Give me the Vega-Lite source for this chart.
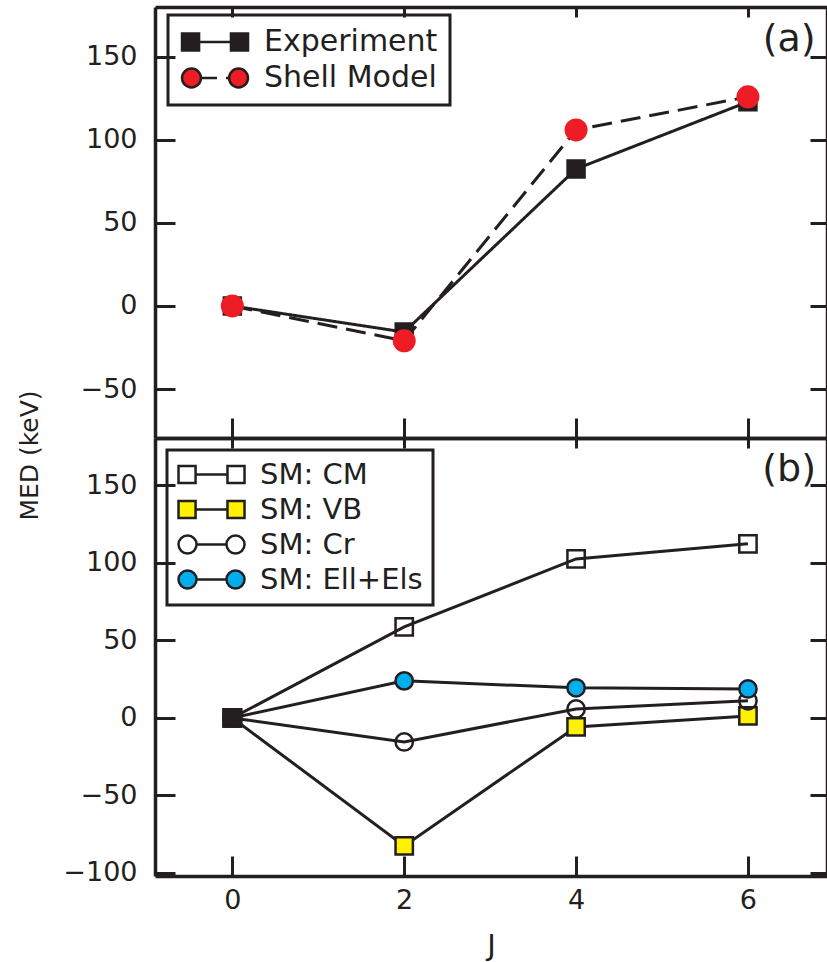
{
  "$schema": "https://vega.github.io/schema/vega-lite/v6.json",
  "padding": {"left": 17, "top": 5, "right": 0, "bottom": 20},
  "autosize": {"type": "pad"},
  "bounds": "flush",
  "spacing": 0,
  "config": {
    "view": {"stroke": null},
    "font": "DejaVu Sans",
    "axis": {
      "grid": false,
      "domainColor": "#231F20",
      "domainWidth": 3.5,
      "tickColor": "#231F20",
      "tickWidth": 3,
      "labelFont": "DejaVu Sans",
      "labelFontSize": 27,
      "labelColor": "#231F20",
      "titleFont": "DejaVu Sans",
      "titleColor": "#231F20",
      "titleFontWeight": "normal"
    },
    "legend": {
      "labelFont": "DejaVu Sans",
      "labelFontSize": 30,
      "labelColor": "#231F20",
      "labelLimit": 600,
      "strokeColor": "#231F20",
      "strokeWidth": 3,
      "symbolStrokeWidth": 2.5,
      "symbolStrokeColor": "#231F20",
      "symbolOpacity": 1,
      "symbolSize": 484,
      "labelOffset": 54,
      "padding": 12,
      "titleFontSize": 0
    }
  },
  "resolve": {
    "scale": {"x": "independent", "y": "independent", "shape": "independent", "fill": "independent", "stroke": "independent", "strokeDash": "independent", "size": "independent"},
    "legend": {"shape": "independent", "fill": "independent", "stroke": "independent"}
  },
  "vconcat": [
    {
      "width": 672,
      "height": 431,
      "data": {
        "values": [
          {"J": 0, "val": 0, "series": "Experiment"},
          {"J": 2, "val": -15.7, "series": "Experiment"},
          {"J": 4, "val": 82.5, "series": "Experiment"},
          {"J": 6, "val": 122.9, "series": "Experiment"},
          {"J": 0, "val": 0, "series": "Shell Model"},
          {"J": 2, "val": -21, "series": "Shell Model"},
          {"J": 4, "val": 106, "series": "Shell Model"},
          {"J": 6, "val": 125.9, "series": "Shell Model"}
        ]
      },
      "resolve": {
        "scale": {"shape": "independent", "fill": "independent", "stroke": "independent", "size": "independent"},
        "axis": {"x": "independent", "y": "independent"}
      },
      "layer": [
        {
          "mark": {"type": "line", "color": "#231F20", "strokeWidth": 3},
          "encoding": {
            "x": {"field": "J", "type": "quantitative", "scale": {"domain": [-0.9, 6.92], "nice": false, "zero": false},
                  "axis": {"orient": "bottom", "values": [0, 2, 4, 6], "labels": false, "tickSize": -20, "title": null}},
            "y": {"field": "val", "type": "quantitative", "scale": {"domain": [-79.5, 180], "nice": false, "zero": false},
                  "axis": {"orient": "left", "values": [-50, 0, 50, 100, 150], "tickSize": -20, "labelPadding": 38, "title": null}},
            "detail": {"field": "series"},
            "strokeDash": {"field": "series", "type": "nominal", "scale": {"domain": ["Experiment", "Shell Model"], "range": [[1, 0], [20, 9]]}, "legend": null}
          }
        },
        {
          "mark": {"type": "point", "filled": true, "strokeWidth": 2.5, "opacity": 1},
          "encoding": {
            "x": {"field": "J", "type": "quantitative",
                  "axis": {"orient": "top", "values": [0, 2, 4, 6], "labels": false, "tickSize": -10, "title": null}},
            "y": {"field": "val", "type": "quantitative",
                  "axis": {"orient": "right", "values": [-50, 0, 50, 100, 150], "labels": false, "tickSize": -17, "title": null}},
            "shape": {"field": "series", "type": "nominal", "scale": {"domain": ["Experiment", "Shell Model"], "range": ["square", "circle"]}, "legend": null},
            "fill": {"field": "series", "type": "nominal", "scale": {"domain": ["Experiment", "Shell Model"], "range": ["#231F20", "#EE1C25"]}, "legend": null},
            "stroke": {"field": "series", "type": "nominal", "scale": {"domain": ["Experiment", "Shell Model"], "range": ["#231F20", "#EE1C25"]}, "legend": null},
            "size": {"field": "series", "type": "ordinal", "scale": {"domain": ["Experiment", "Shell Model"], "range": [289, 420]}, "legend": null}
          }
        },
        {
          "transform": [{"filter": "false"}],
          "mark": {"type": "point", "filled": true, "stroke": "#231F20", "strokeWidth": 2.5},
          "encoding": {
            "shape": {"field": "series", "type": "nominal",
                      "scale": {"domain": ["Experiment", "Shell Model"],
                                "range": ["M-1.18,-0.77H0.37V0.77H-1.18Z M3.27,-0.77H4.82V0.77H3.27Z M0.37,0H3.27",
                                          "M-1.18,0A0.86,0.86 0 1,1 0.54,0A0.86,0.86 0 1,1 -1.18,0Z M3.1,0A0.86,0.86 0 1,1 4.82,0A0.86,0.86 0 1,1 3.1,0Z M0.54,0H2.0 M2.82,0H3.12"]},
                      "legend": {"orient": "none", "legendX": 13, "legendY": 8, "title": null, "rowPadding": 6, "labelExpr": "datum.label + '\u2002'"}},
            "fill": {"field": "series", "type": "nominal", "scale": {"domain": ["Experiment", "Shell Model"], "range": ["#231F20", "#EE1C25"]}},
            "stroke": {"field": "series", "type": "nominal", "scale": {"domain": ["Experiment", "Shell Model"], "range": ["#231F20", "#231F20"]}}
          }
        },
        {
          "data": {"values": [{"J": 6.48, "val": 160, "lab": "(a)"}]},
          "mark": {"type": "text", "fontSize": 38, "color": "#231F20", "font": "DejaVu Sans"},
          "encoding": {
            "x": {"field": "J", "type": "quantitative", "axis": null},
            "y": {"field": "val", "type": "quantitative", "axis": null},
            "text": {"field": "lab"}
          }
        }
      ]
    },
    {
      "width": 672,
      "height": 438,
      "data": {
        "values": [
          {"J": 0, "val": 0, "series": "SM: CM"},
          {"J": 2, "val": 58.7, "series": "SM: CM"},
          {"J": 4, "val": 102.6, "series": "SM: CM"},
          {"J": 6, "val": 112.3, "series": "SM: CM"},
          {"J": 0, "val": 0, "series": "SM: VB"},
          {"J": 2, "val": -82.6, "series": "SM: VB"},
          {"J": 4, "val": -5.8, "series": "SM: VB"},
          {"J": 6, "val": 1.3, "series": "SM: VB"},
          {"J": 0, "val": 0, "series": "SM: Cr"},
          {"J": 2, "val": -15.5, "series": "SM: Cr"},
          {"J": 4, "val": 5.8, "series": "SM: Cr"},
          {"J": 6, "val": 11, "series": "SM: Cr"},
          {"J": 0, "val": 0, "series": "SM: Ell+Els"},
          {"J": 2, "val": 23.9, "series": "SM: Ell+Els"},
          {"J": 4, "val": 19.4, "series": "SM: Ell+Els"},
          {"J": 6, "val": 18.7, "series": "SM: Ell+Els"},
          {"J": 0, "val": 0, "series": "Ref"}
        ]
      },
      "resolve": {
        "scale": {"shape": "independent", "fill": "independent", "stroke": "independent", "size": "independent"},
        "axis": {"x": "independent", "y": "independent"}
      },
      "layer": [
        {
          "transform": [{"filter": "datum.series != 'Ref'"}],
          "mark": {"type": "line", "color": "#231F20", "strokeWidth": 3},
          "encoding": {
            "x": {"field": "J", "type": "quantitative", "scale": {"domain": [-0.9, 6.92], "nice": false, "zero": false},
                  "axis": {"orient": "bottom", "values": [0, 2, 4, 6], "tickSize": -20, "labelPadding": 31, "title": "J", "titleFontSize": 29, "titleY": 78, "titleBaseline": "alphabetic"}},
            "y": {"field": "val", "type": "quantitative", "scale": {"domain": [-102, 180.6], "nice": false, "zero": false},
                  "axis": {"orient": "left", "values": [-100, -50, 0, 50, 100, 150], "tickSize": -20, "labelPadding": 38,
                           "title": "MED (keV)", "titleFontSize": 25, "titleX": -118, "titleY": 17, "titleAngle": -90, "titleAlign": "center", "titleBaseline": "alphabetic"}},
            "detail": {"field": "series"}
          }
        },
        {
          "mark": {"type": "point", "filled": true, "stroke": "#231F20", "strokeWidth": 2.5, "opacity": 1},
          "encoding": {
            "x": {"field": "J", "type": "quantitative",
                  "axis": {"orient": "top", "values": [0, 2, 4, 6], "labels": false, "tickSize": -10, "title": null}},
            "y": {"field": "val", "type": "quantitative",
                  "axis": {"orient": "right", "values": [-100, -50, 0, 50, 100, 150], "labels": false, "tickSize": -17, "title": null}},
            "shape": {"field": "series", "type": "nominal", "scale": {"domain": ["SM: CM", "SM: VB", "SM: Cr", "SM: Ell+Els", "Ref"], "range": ["square", "square", "circle", "circle", "square"]}, "legend": null},
            "fill": {"field": "series", "type": "nominal", "scale": {"domain": ["SM: CM", "SM: VB", "SM: Cr", "SM: Ell+Els", "Ref"], "range": ["transparent", "#FFF200", "transparent", "#00AEEF", "#231F20"]}, "legend": null},
            "size": {"field": "series", "type": "ordinal", "scale": {"domain": ["SM: CM", "SM: VB", "SM: Cr", "SM: Ell+Els", "Ref"], "range": [300, 300, 361, 380, 420]}, "legend": null}
          }
        },
        {
          "transform": [{"filter": "false"}],
          "mark": {"type": "point", "filled": true, "stroke": "#231F20", "strokeWidth": 2.5},
          "encoding": {
            "shape": {"field": "series", "type": "nominal",
                      "scale": {"domain": ["SM: CM", "SM: VB", "SM: Cr", "SM: Ell+Els"],
                                "range": ["M-1.18,-0.77H0.37V0.77H-1.18Z M3.27,-0.77H4.82V0.77H3.27Z M0.37,0H3.27",
                                          "M-1.18,-0.77H0.37V0.77H-1.18Z M3.27,-0.77H4.82V0.77H3.27Z M0.37,0H3.27",
                                          "M-1.18,0A0.82,0.82 0 1,1 0.46,0A0.82,0.82 0 1,1 -1.18,0Z M3.18,0A0.82,0.82 0 1,1 4.82,0A0.82,0.82 0 1,1 3.18,0Z M0.46,0H3.18",
                                          "M-1.18,0A0.82,0.82 0 1,1 0.46,0A0.82,0.82 0 1,1 -1.18,0Z M3.18,0A0.82,0.82 0 1,1 4.82,0A0.82,0.82 0 1,1 3.18,0Z M0.46,0H3.18"]},
                      "legend": {"orient": "none", "legendX": 12, "legendY": 12, "title": null, "rowPadding": 5, "labelFontSize": 29, "padding": 10}},
            "fill": {"field": "series", "type": "nominal", "scale": {"domain": ["SM: CM", "SM: VB", "SM: Cr", "SM: Ell+Els"], "range": ["transparent", "#FFF200", "transparent", "#00AEEF"]}},
            "stroke": {"field": "series", "type": "nominal", "scale": {"domain": ["SM: CM", "SM: VB", "SM: Cr", "SM: Ell+Els"], "range": ["#231F20", "#231F20", "#231F20", "#231F20"]}}
          }
        },
        {
          "data": {"values": [{"J": 6.48, "val": 160, "lab": "(b)"}]},
          "mark": {"type": "text", "fontSize": 38, "color": "#231F20", "font": "DejaVu Sans"},
          "encoding": {
            "x": {"field": "J", "type": "quantitative", "axis": null},
            "y": {"field": "val", "type": "quantitative", "axis": null},
            "text": {"field": "lab"}
          }
        }
      ]
    }
  ]
}
